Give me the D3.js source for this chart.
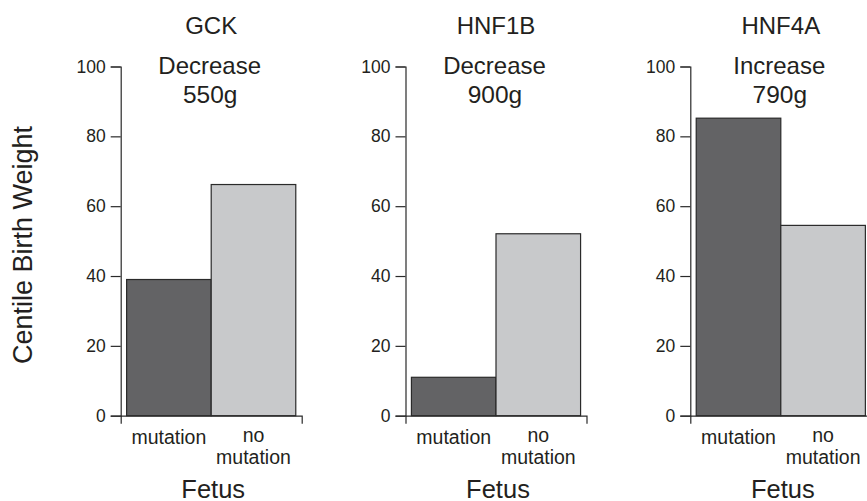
<!DOCTYPE html>
<html>
<head>
<meta charset="utf-8">
<script src="https://cdn.jsdelivr.net/npm/d3@7"></script>
<style>
  html, body { margin: 0; padding: 0; background: #fff; }
  svg { display: block; font-family: "Liberation Sans", Arial, Helvetica, sans-serif; }
</style>
</head>
<body>
<script>
// ---- data ----
const genes = ["GCK", "HNF1B", "HNF4A"];
const changes = ["Decrease", "Decrease", "Increase"];
const weights = ["550g", "900g", "790g"];
const groups = ["mutation", "no mutation"];
const mutationValues = [39, 11, 85.2];
const noMutationValues = [66.2, 52.1, 54.5];
const yTicks = [0, 20, 40, 60, 80, 100];
const xTitle = "Fetus";
const yTitle = "Centile Birth Weight";

// ---- styles ----
const textColor = "#231f20";
const lineColor = "#2a2a2a";
const barColors = { "mutation": "#636365", "no mutation": "#c8c9cb" };

const W = 867, H = 501;
const svg = d3.select("body").append("svg").attr("width", W).attr("height", H);

const y = d3.scaleLinear().domain([0, 100]).range([415.7, 66.5]);
const x = d3.scaleBand().domain(groups).range([0, 181]).paddingInner(0).paddingOuter(0.07);
const panelLeft = d3.scaleLinear().domain([0, 1]).range([120.7, 405.5]);

genes.forEach((gene, i) => {
  const vals = [mutationValues[i], noMutationValues[i]];
  const data = groups.map((g, k) => ({ group: g, value: vals[k] }));
  const g = svg.append("g").attr("transform", `translate(${panelLeft(i)},0)`);
  const cx = (x.range()[0] + x.range()[1]) / 2;

  // bars
  g.selectAll("rect.bar").data(data).enter().append("rect")
    .attr("class", "bar")
    .attr("x", d => x(d.group))
    .attr("y", d => y(d.value))
    .attr("width", x.bandwidth())
    .attr("height", d => y(0) - y(d.value))
    .attr("fill", d => barColors[d.group])
    .attr("stroke", lineColor)
    .attr("stroke-width", 1.2);

  // y axis
  const ya = g.append("g").call(d3.axisLeft(y).tickValues(yTicks).tickSize(10).tickPadding(5));
  ya.selectAll("path, line").attr("stroke", lineColor).attr("stroke-width", 1.2);
  ya.selectAll("text").attr("fill", textColor).attr("font-size", 17.5)
    .style("font-family", "'Liberation Sans', Arial, sans-serif");

  // x axis
  const xa = g.append("g").attr("transform", `translate(0,${y(0)})`)
    .call(d3.axisBottom(x).tickSizeInner(0).tickSizeOuter(8));
  xa.selectAll("path, line").attr("stroke", lineColor).attr("stroke-width", 1.2);
  xa.selectAll("text").each(function(d) {
    const t = d3.select(this).text(null).attr("y", 0).attr("dy", null)
      .attr("fill", textColor).attr("font-size", 19.5)
      .style("font-family", "'Liberation Sans', Arial, sans-serif");
    const words = d.split(" ");
    if (words.length === 1) {
      t.append("tspan").attr("x", 0).attr("y", 28.5).text(words[0]);
    } else {
      t.append("tspan").attr("x", 0).attr("y", 26.5).text(words[0]);
      t.append("tspan").attr("x", 0).attr("y", 48).text(words[1]);
    }
  });

  // titles
  g.append("text").attr("x", cx).attr("y", 34).attr("text-anchor", "middle")
    .attr("font-size", 24).attr("fill", textColor).text(gene);
  g.append("text").attr("x", cx - 1.5).attr("y", 73.5).attr("text-anchor", "middle")
    .attr("font-size", 24).attr("fill", textColor).text(changes[i]);
  g.append("text").attr("x", cx - 1).attr("y", 103.3).attr("text-anchor", "middle")
    .attr("font-size", 24.5).attr("fill", textColor).text(weights[i]);
  g.append("text").attr("x", cx + 2).attr("y", 497.5).attr("text-anchor", "middle")
    .attr("font-size", 25.5).attr("fill", textColor).text(xTitle);
});

// y title
svg.append("text")
  .attr("transform", "translate(32,245) rotate(-90)")
  .attr("text-anchor", "middle")
  .attr("font-size", 27)
  .attr("fill", textColor)
  .text(yTitle);
</script>
</body>
</html>
